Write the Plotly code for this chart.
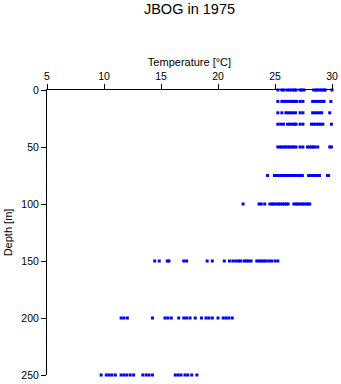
import plotly.graph_objects as go

depths = [0, 10, 20, 30, 50, 75, 100, 150, 200, 250]

temp_0 = [25.25, 25.6, 25.8, 26.1, 26.3, 26.5, 26.7, 26.85, 27.2, 27.35, 27.55, 28.4, 28.6, 28.75, 28.95, 29.1, 29.3, 29.4, 30.0]
temp_10 = [25.25, 25.6, 25.8, 26.0, 26.2, 26.4, 26.55, 26.75, 26.9, 27.2, 27.45, 28.3, 28.5, 28.7, 28.9, 29.1, 29.3, 29.9]
temp_20 = [25.25, 25.6, 25.95, 26.15, 26.35, 26.55, 26.8, 27.2, 27.45, 28.3, 28.5, 28.7, 28.9, 29.1, 29.8]
temp_30 = [25.25, 25.5, 25.75, 26.1, 26.3, 26.5, 26.7, 26.85, 27.2, 27.45, 28.2, 28.4, 28.6, 28.8, 29.0, 29.2, 29.95]
temp_50 = [25.25, 25.45, 25.6, 25.8, 25.95, 26.15, 26.3, 26.5, 26.65, 26.85, 27.2, 27.45, 27.85, 28.0, 28.2, 28.35, 28.5, 28.75, 29.8, 29.95]
temp_75 = [24.35, 24.95, 25.1, 25.3, 25.5, 25.65, 25.85, 26.0, 26.2, 26.4, 26.55, 26.8, 27.0, 27.2, 27.4, 27.95, 28.1, 28.3, 28.5, 28.65, 28.9, 29.6, 29.7]
temp_100 = [22.2, 23.6, 23.8, 24.1, 24.55, 24.75, 24.9, 25.1, 25.3, 25.45, 25.65, 25.8, 26.0, 26.15, 26.65, 26.85, 27.0, 27.2, 27.4, 27.55, 27.75, 27.9, 28.05]
temp_150 = [14.45, 14.85, 15.55, 15.7, 17.0, 17.25, 19.05, 19.5, 20.55, 21.0, 21.3, 21.55, 21.8, 22.0, 22.3, 22.5, 22.7, 22.9, 23.4, 23.6, 23.8, 24.0, 24.2, 24.45, 24.7, 25.0, 25.25]
temp_200 = [11.5, 11.75, 12.05, 14.25, 15.35, 15.6, 15.9, 16.55, 17.0, 17.25, 17.55, 18.0, 18.55, 18.95, 19.2, 19.5, 20.0, 20.45, 20.7, 20.95, 21.25]
temp_250 = [9.75, 10.2, 10.45, 10.7, 11.0, 11.5, 11.75, 12.0, 12.3, 12.6, 13.4, 13.7, 13.95, 14.25, 16.25, 16.5, 16.75, 17.1, 17.35, 17.7, 18.15]

temps = [temp_0, temp_10, temp_20, temp_30, temp_50, temp_75, temp_100, temp_150, temp_200, temp_250]

xs, ys = [], []
for d, t in zip(depths, temps):
    xs.extend(t)
    ys.extend([d] * len(t))

fig = go.Figure()
fig.add_trace(go.Scatter(
    x=xs, y=ys, mode="markers",
    marker=dict(symbol="square", size=3, color="#0000FF", line=dict(width=0)),
    cliponaxis=False, showlegend=False,
))

font = "Liberation Sans, Arial, sans-serif"
fig.update_layout(
    width=341, height=384,
    margin=dict(l=47, r=9, t=90, b=9, autoexpand=False),
    paper_bgcolor="white", plot_bgcolor="white",
    font=dict(family=font, size=10, color="black"),
    title=dict(text="JBOG in 1975", x=0.5, xref="paper", y=1 - 9 / 384, yref="container",
               yanchor="middle", xanchor="center", font=dict(size=14.5, color="black")),
    xaxis=dict(
        side="top", range=[5, 30], tickmode="array", tickvals=[5, 10, 15, 20, 25, 30],
        ticks="outside", ticklen=5, tickwidth=1, tickcolor="black", automargin=False,
        showline=True, linecolor="black", linewidth=1, showgrid=False, zeroline=False,
        title=dict(text="Temperature [°C]", font=dict(size=11), standoff=0),
        tickfont=dict(size=10.5),
    ),
    yaxis=dict(
        range=[250, 0], tickmode="array", tickvals=[0, 50, 100, 150, 200, 250],
        ticks="outside", ticklen=5, tickwidth=1, tickcolor="black", automargin=False,
        showline=True, linecolor="black", linewidth=1, showgrid=False, zeroline=False,
        title=dict(text="Depth [m]", font=dict(size=11), standoff=6),
        tickfont=dict(size=10.5),
    ),
)

fig.write_html("out.html")
